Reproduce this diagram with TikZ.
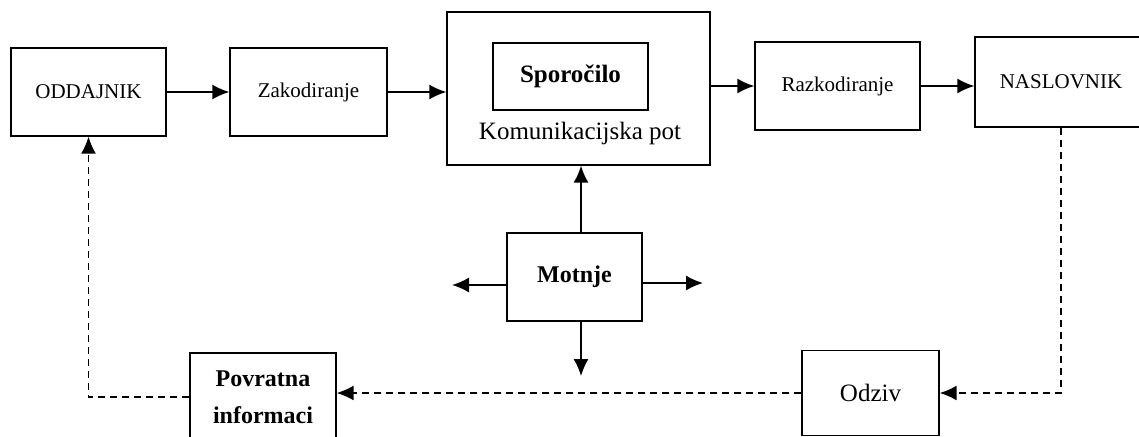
\documentclass[tikz,border=0pt]{standalone}
\usepackage{fontspec}
\setmainfont{Liberation Serif}
\usetikzlibrary{arrows.meta}
\begin{document}
\begin{tikzpicture}[x=1pt,y=-1pt,
  mybox/.style={draw,line width=1.4pt,inner sep=0pt,font=\fontsize{21}{25}\selectfont},
  bigtext/.style={font=\fontsize{25}{30}\selectfont},
  boldtext/.style={font=\fontsize{24}{37}\selectfont\bfseries},
  myarrow/.style={line width=1.5pt,-{Latex[length=17pt,width=15pt]}},
  mydash/.style={myarrow,dash pattern=on 7pt off 5pt}]
\useasboundingbox (0,0) rectangle (1139,436);
\clip (0,0) rectangle (1139,436);
\node [mybox,minimum width=155,minimum height=88] (oddajnik) at (88.5,92) {ODDAJNIK};
\node [mybox,minimum width=157,minimum height=88] (zakodiranje) at (308.5,92) {Zakodiranje};
\node [mybox,minimum width=263,minimum height=153] (pot) at (578.5,88.5) {};
\node [mybox,minimum width=155,minimum height=67,font=\fontsize{25}{30}\selectfont\bfseries] (sporocilo) at (570.5,76.5) {Sporočilo};
\node [bigtext] (potlabel) at (580,133) {Komunikacijska pot};
\node [mybox,minimum width=165,minimum height=88] (razkodiranje) at (837.5,86) {Razkodiranje};
\node [mybox,minimum width=172,minimum height=90] (naslovnik) at (1061,82) {NASLOVNIK};
\node [mybox,minimum width=135,minimum height=88,boldtext] (motnje) at (574.5,277) {Motnje};
\node [mybox,minimum width=137,minimum height=85,bigtext] (odziv) at (870.5,393) {Odziv};
\node [mybox,minimum width=146,minimum height=88,boldtext,align=center] (povratna) at (263,397) {Povratna\\informaci};
\coordinate (motleft) at (452,285);
\coordinate (motright) at (703,283);
\coordinate (motdown) at (581,376);
\draw [myarrow] (oddajnik) -- (zakodiranje);
\draw [myarrow] (zakodiranje.east) -- (zakodiranje.east -| pot.west);
\draw [myarrow] (pot.east |- razkodiranje.west) -- (razkodiranje.west);
\draw [myarrow] (razkodiranje.east) -- (razkodiranje.east -| naslovnik.west);
\draw [myarrow] (motnje.north -| motdown) -- (pot.south -| motdown);
\draw [myarrow] (motnje.west |- motleft) -- (motleft);
\draw [myarrow] (motnje.east |- motright) -- (motright);
\draw [myarrow] (motnje.south -| motdown) -- (motdown);
\draw [mydash] (naslovnik.south) |- (odziv.east);
\draw [mydash] (odziv.west) -- (odziv.west -| povratna.east);
\draw [mydash] (povratna.west) -| (oddajnik.south);
\end{tikzpicture}
\end{document}
